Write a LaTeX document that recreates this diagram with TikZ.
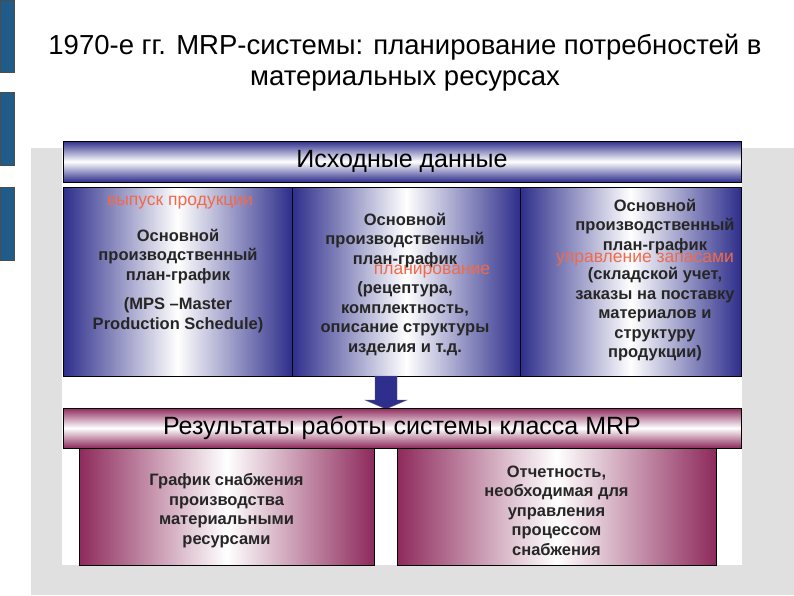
\documentclass[tikz,border=0pt]{standalone}
\usepackage{fontspec}
\setmainfont{Liberation Sans}
\begin{document}
\begin{tikzpicture}[x=1pt,y=-1pt,
  nv/.style={left color=navyc,right color=navyc,middle color=white,draw=black,line width=0.6pt},
  mr/.style={left color=maroonc,right color=maroonc,middle color=white,draw=black,line width=0.6pt},
  hb/.style={top color=navyc,bottom color=navyc,middle color=white,draw=black,line width=0.8pt},
  hm/.style={top color=maroonc,bottom color=maroonc,middle color=white,draw=black,line width=0.8pt},
  bt/.style={font=\bfseries\fontsize{16.5}{19.5}\selectfont,align=center,text=black!85},
  rt/.style={font=\fontsize{17.5}{20}\selectfont,text=orangered},
  bar/.style={fill=barc,draw=black!70}]
\definecolor{navyc}{HTML}{2E2E8C}
\definecolor{maroonc}{HTML}{8E2A5C}
\definecolor{barc}{HTML}{1F5C8A}
\definecolor{orangered}{HTML}{F06A4A}
\useasboundingbox (0,0) rectangle (794,595);
\fill[white] (0,0) rectangle (794,595);
\fill[bar] (0,0) rectangle (14,72);
\fill[bar] (0,92) rectangle (14,165);
\fill[bar] (0,187) rectangle (14,260);
\fill[black!12] (31,148) rectangle (794,595);
\fill[white] (62,148) rectangle (742,565);
\node[font=\fontsize{27.5}{31}\selectfont,align=center] (title) at (405,63)
  {1970-е гг. MRP-системы: планирование потребностей в\\материальных ресурсах};
\node[hb,minimum width=678,minimum height=41,inner sep=0,font=\fontsize{25}{28}\selectfont] (h1) at (402,161.5) {Исходные данные};
\node[nv,minimum width=229,minimum height=189,inner sep=0] (b1) at (177.5,281.5) {};
\node[nv,minimum width=228,minimum height=189,inner sep=0] (b2) at (406,281.5) {};
\node[nv,minimum width=221,minimum height=189,inner sep=0] (b3) at (630.5,281.5) {};
\node[bt] (t1) at (178,281) {Основной\\производственный\\план-график\\[10pt](MPS –Master\\Production Schedule)};
\node[bt] (t2) at (405,284) {Основной\\производственный\\план-график\\[10pt](рецептура,\\комплектность,\\описание структуры\\изделия и т.д.};
\node[bt] (t3) at (655,280) {Основной\\производственный\\план-график\\[10pt](складской учет,\\заказы на поставку\\материалов и\\структуру\\продукции)};
\node[rt] (r1) at (180,203) {выпуск продукции};
\node[rt] (r2) at (432,272) {планирование};
\node[rt] (r3) at (645,260) {управление запасами};
\fill[navyc,draw=black!60] (375,376) -- (397,376) -- (397,400) -- (407,400) -- (386,409) -- (365,400) -- (375,400) -- cycle;
\node[hm,minimum width=678,minimum height=40,inner sep=0,font=\fontsize{25}{28}\selectfont] (h2) at (402,428) {Результаты работы системы класса MRP};
\node[mr,minimum width=295,minimum height=117,inner sep=0] (m1) at (226.5,506.5) {};
\node[mr,minimum width=319,minimum height=117,inner sep=0] (m2) at (556.5,506.5) {};
\node[bt] at (m1) [yshift=-4pt] {График снабжения\\производства\\материальными\\ресурсами};
\node[bt] at (m2) [yshift=-4pt] {Отчетность,\\необходимая для\\управления\\процессом\\снабжения};
\end{tikzpicture}
\end{document}
